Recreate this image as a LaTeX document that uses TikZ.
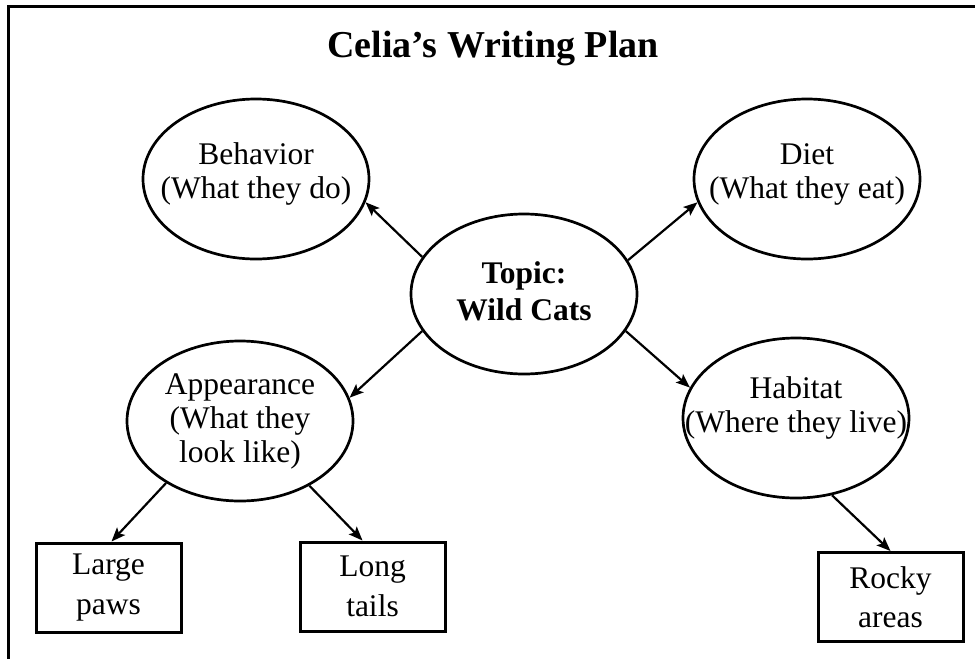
\documentclass[tikz,border=0pt]{standalone}
\usepackage{fontspec}
\setmainfont{Liberation Serif}
\usetikzlibrary{arrows.meta,shapes.geometric}

\tikzstyle{idea}=[draw,shape=ellipse,line width=2.7pt,minimum width=226pt,minimum height=160pt,inner sep=0pt]
\tikzstyle{note}=[align=center,inner sep=0pt,font=\fontsize{31.5}{34}\selectfont]
\tikzstyle{detail}=[draw,shape=rectangle,line width=3pt,minimum width=145pt,minimum height=89pt,inner sep=0pt,align=center,font=\fontsize{31.5}{39.5}\selectfont]
\tikzstyle{link}=[line width=2.2pt,-{Stealth[length=14pt,width=11pt,inset=3pt]}]

\begin{document}
\begin{tikzpicture}[x=1pt,y=-1pt]
\useasboundingbox (0,0) rectangle (975,659);
\draw[line width=3pt] (975,6.5) -- (8.5,6.5) -- (8.5,659);
\node[anchor=base,font=\fontsize{38}{40}\selectfont\bfseries] at (493,57) (title) {Celia’s Writing Plan};
\node[idea,label={[note,yshift=3pt,font=\fontsize{31.5}{37}\selectfont\bfseries]center:Topic:\\Wild Cats}] at (524,294) (topic) {};
\node[idea,label={[note,yshift=5pt]center:Behavior\\(What they do)}]    at (256,179) (behavior) {};
\node[idea,label={[note,yshift=5pt]center:Diet\\(What they eat)}]       at (807,179) (diet)     {};
\node[idea,label={[note]center:Appearance\\(What they\\look like)}]     at (240,421) (appear)   {};
\node[idea,label={[note,yshift=10pt]center:Habitat\\(Where they live)}] at (796,418) (habitat)  {};
\node[detail] at (108.5,587.5) (paws)  {Large\\paws};
\node[detail] at (372.5,586.5) (tails) {Long\\tails};
\node[detail] at (890.5,597)   (rocky) {Rocky\\areas};
\draw[link] (topic.160) -- (behavior.348);
\draw[link] (topic.18)  -- (diet.192);
\draw[link] (topic.200) -- (appear.12);
\draw[link] (topic.340) -- (habitat.164);
\draw[link] (appear.220) -- ([xshift=3pt]paws.north);
\draw[link] (appear.317) -- ([xshift=-10pt]tails.north);
\draw[link] (habitat.295) -- (rocky.north);
\end{tikzpicture}
\end{document}
